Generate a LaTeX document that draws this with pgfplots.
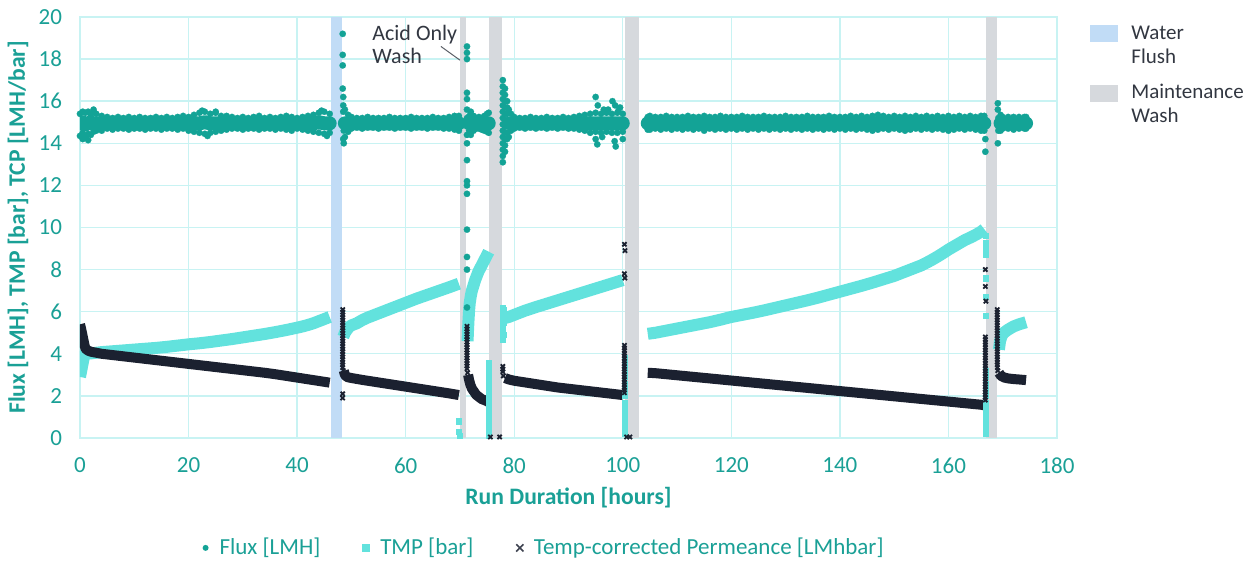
\documentclass[border=0pt]{standalone}
\usepackage{fontspec}
\setmainfont{Carlito}
\usepackage{pgfplots}
\pgfplotsset{compat=1.18}
\usepackage{pgfplotstable}
\definecolor{fluxc}{RGB}{19,163,150}
\definecolor{tmpc}{RGB}{98,226,221}
\definecolor{tcpc}{RGB}{27,33,48}
\definecolor{gridc}{RGB}{200,243,243}
\definecolor{txtc}{RGB}{26,160,150}
\definecolor{waterc}{RGB}{193,220,246}
\definecolor{maintc}{RGB}{214,217,221}
\definecolor{annc}{RGB}{50,55,65}

\pgfplotstableread{
x lo mid hi
0 14.35 14.95 15.4
0.5 14.5 15.0 15.5
1 14.3 14.9 15.45
1.5 14.45 14.95 15.5
2 14.4 15.0 15.35
2.5 14.55 14.9 15.5
3 14.6 14.95 15.4
4 14.6 14.95 15.3
5 14.7 14.95 15.25
6 14.65 14.95 15.2
7 14.7 15.0 15.25
8 14.7 14.95 15.2
9 14.65 14.95 15.25
10 14.7 14.95 15.2
11 14.7 14.95 15.25
12 14.65 14.95 15.2
13 14.7 14.95 15.2
14 14.7 15.0 15.25
15 14.65 14.95 15.2
16 14.7 14.95 15.25
17 14.7 14.95 15.2
18 14.65 14.95 15.25
19 14.7 14.95 15.3
20 14.6 14.95 15.25
21 14.55 14.95 15.35
22 14.5 14.95 15.45
23 14.45 15.0 15.5
24 14.5 14.95 15.4
25 14.55 14.95 15.45
26 14.6 14.95 15.3
27 14.65 14.95 15.3
28 14.7 14.95 15.25
29 14.7 14.95 15.2
30 14.65 14.95 15.25
31 14.7 14.95 15.2
32 14.7 14.95 15.25
33 14.65 14.95 15.3
34 14.7 14.95 15.2
35 14.7 14.95 15.25
36 14.65 14.95 15.2
37 14.7 14.95 15.25
38 14.65 14.95 15.3
39 14.6 14.95 15.25
40 14.7 14.95 15.2
41 14.65 14.95 15.25
42 14.6 14.95 15.3
43 14.55 14.95 15.35
44 14.5 15.0 15.45
45 14.45 14.95 15.5
46 14.5 14.95 15.4
47 nan nan nan
48.8 14.3 14.95 15.6
49.4 14.55 14.95 15.35
50 14.7 14.95 15.25
51 14.75 14.95 15.2
52 14.7 14.95 15.2
53 14.75 14.95 15.25
54 14.75 14.95 15.2
55 14.7 14.95 15.2
56 14.75 14.95 15.2
57 14.75 14.95 15.25
58 14.7 14.95 15.2
59 14.75 14.95 15.2
60 14.75 14.95 15.2
61 14.7 14.95 15.25
62 14.75 14.95 15.2
63 14.75 14.95 15.2
64 14.7 14.95 15.2
65 14.75 14.95 15.25
66 14.75 14.95 15.2
67 14.7 14.95 15.2
68 14.7 14.95 15.25
69 14.65 14.95 15.3
69.8 14.6 14.95 15.3
71 nan nan nan
72 14.4 15.0 15.5
72.5 14.6 14.95 15.3
73 14.7 14.95 15.2
73.5 14.7 14.95 15.25
74 14.65 14.95 15.2
74.5 14.6 14.95 15.3
75 14.55 14.95 15.4
75.3 14.5 14.95 15.45
77 nan nan nan
79.4 14.6 14.95 15.4
80 14.7 14.95 15.25
81 14.75 14.95 15.2
82 14.7 14.95 15.2
83 14.75 14.95 15.25
84 14.7 14.95 15.2
85 14.75 14.95 15.2
86 14.7 14.95 15.25
87 14.75 14.95 15.2
88 14.7 14.95 15.2
89 14.75 14.95 15.25
90 14.7 14.95 15.2
91 14.7 14.95 15.25
92 14.65 14.95 15.3
93 14.6 14.95 15.35
94 14.5 14.95 15.4
95 14.55 14.95 15.45
96 14.5 14.95 15.4
97 14.55 14.95 15.45
98 14.5 14.95 15.4
99 14.5 14.95 15.45
100 14.55 14.95 15.4
102 nan nan nan
104.6 14.65 14.95 15.25
105 14.65 14.95 15.3
106 14.7 14.95 15.25
107 14.65 14.95 15.25
108 14.7 14.95 15.3
109 14.65 14.95 15.25
110 14.7 14.95 15.25
111 14.65 14.95 15.25
112 14.7 14.95 15.3
113 14.65 14.95 15.25
114 14.7 14.95 15.25
115 14.6 14.95 15.3
116 14.7 14.95 15.25
117 14.65 14.95 15.25
118 14.7 14.95 15.3
119 14.65 14.95 15.25
120 14.7 14.95 15.25
121 14.65 14.95 15.25
122 14.7 14.95 15.3
123 14.65 14.95 15.25
124 14.7 14.95 15.25
125 14.65 14.95 15.25
126 14.7 14.95 15.3
127 14.65 14.95 15.25
128 14.7 14.95 15.25
129 14.65 14.95 15.25
130 14.7 14.95 15.3
131 14.65 14.95 15.25
132 14.7 14.95 15.25
133 14.65 14.95 15.25
134 14.7 14.95 15.3
135 14.65 14.95 15.25
136 14.7 14.95 15.25
137 14.65 14.95 15.25
138 14.7 14.95 15.3
139 14.65 14.95 15.25
140 14.7 14.95 15.25
141 14.65 14.95 15.25
142 14.7 14.95 15.3
143 14.65 14.95 15.25
144 14.7 14.95 15.3
145 14.65 14.95 15.25
146 14.6 14.95 15.3
147 14.65 14.95 15.35
148 14.7 14.95 15.3
149 14.65 14.95 15.25
150 14.7 14.95 15.3
151 14.65 14.95 15.25
152 14.6 14.95 15.3
153 14.65 14.95 15.25
154 14.7 14.95 15.3
155 14.65 14.95 15.25
156 14.7 14.95 15.3
157 14.65 14.95 15.25
158 14.7 14.95 15.3
159 14.65 14.95 15.25
160 14.6 14.95 15.3
161 14.65 14.95 15.25
162 14.7 14.95 15.3
163 14.65 14.95 15.25
164 14.7 14.95 15.3
165 14.65 14.95 15.25
166 14.6 14.95 15.3
166.6 14.6 14.95 15.3
168 nan nan nan
169.6 14.6 14.95 15.35
170 14.7 14.95 15.25
171 14.7 14.95 15.25
172 14.65 14.95 15.25
173 14.7 14.95 15.25
174 14.7 14.95 15.25
174.3 14.7 14.95 15.25
}\fluxdata

\pgfplotstableread{
x y
0 2.9
0.3 3.3
0.6 3.7
0.8 3.95
1 4.0
2 4.02
4 4.08
6 4.12
8 4.16
10 4.2
12 4.24
14 4.28
16 4.33
18 4.39
20 4.45
22 4.5
24 4.56
26 4.63
28 4.7
30 4.78
32 4.86
34 4.94
36 5.03
38 5.13
40 5.24
41 5.3
42 5.37
43 5.45
44 5.55
45 5.65
46 5.75
47 nan
48.5 4.8
48.8 5.0
49.2 5.15
49.6 5.28
50 5.35
51 5.45
52 5.6
53 5.72
54 5.82
56 6.02
58 6.22
60 6.42
62 6.62
64 6.8
66 6.98
68 7.16
69.8 7.33
71 nan
71.4 4.6
71.5 5.2
71.6 5.7
71.7 6.1
71.8 6.4
72.0 6.75
72.2 7.0
72.5 7.25
72.8 7.5
73.1 7.7
73.4 7.9
73.8 8.1
74.2 8.3
74.6 8.5
75.0 8.7
75.3 8.85
77 nan
78.3 5.7
79 5.75
80 5.85
82 6.05
84 6.22
86 6.38
88 6.54
90 6.7
92 6.86
94 7.02
96 7.18
98 7.34
100 7.5
102 nan
104.6 4.95
106 5.0
108 5.1
110 5.2
112 5.3
114 5.4
116 5.5
118 5.62
120 5.75
122 5.85
124 5.95
126 6.06
128 6.18
130 6.3
132 6.42
134 6.54
136 6.67
138 6.81
140 6.95
142 7.09
144 7.23
146 7.38
148 7.54
150 7.7
151 7.8
152 7.9
153 8.0
154 8.1
155 8.2
156 8.33
157 8.47
158 8.62
159 8.78
160 8.95
161 9.1
162 9.25
163 9.4
164 9.52
165 9.65
166 9.8
166.6 9.92
168 nan
169.3 4.2
169.5 4.6
169.8 4.85
170.2 5.0
171 5.15
172 5.3
173 5.4
174.3 5.5
}\tmpline

\pgfplotstableread{
x y
69.7 0.3
69.8 0.8
69.9 0.1
75.3 3.6
75.3 3.3
75.3 3.0
75.3 2.7
75.3 2.4
75.3 2.1
75.3 1.8
75.3 1.5
75.3 1.2
75.3 0.9
75.3 0.6
75.3 0.3
75.3 0.1
77.9 4.7
77.9 5.0
77.9 5.3
77.9 5.6
77.9 5.9
77.9 6.2
78.1 4.9
78.1 5.5
78.1 6.1
100.3 3.8
100.3 3.5
100.3 3.2
100.3 2.9
100.3 2.6
100.3 2.3
100.3 2.0
100.3 1.7
100.3 1.4
100.3 1.1
100.3 0.8
100.3 0.5
100.3 0.2
166.8 9.6
166.8 9.3
166.8 9.0
166.8 8.7
166.8 7.6
166.8 6.7
166.8 5.8
166.8 3.2
166.8 2.9
166.8 2.6
166.8 2.3
166.8 2.0
166.8 1.7
166.8 1.4
166.8 1.1
166.8 0.8
166.8 0.5
166.8 0.2
}\tmpmarks

\pgfplotstableread{
x y
0 5.4
0.2 5.2
0.4 4.95
0.6 4.7
0.8 4.45
1 4.25
1.5 4.15
2 4.1
3 4.05
4 4.0
6 3.94
8 3.88
10 3.82
12 3.76
14 3.7
16 3.64
18 3.58
20 3.52
22 3.46
24 3.4
26 3.34
28 3.28
30 3.22
32 3.16
34 3.1
36 3.03
38 2.95
40 2.87
42 2.79
44 2.71
46 2.63
47 nan
48.6 3.2
48.8 3.0
49.2 2.9
49.6 2.87
50 2.85
52 2.76
54 2.68
56 2.6
58 2.52
60 2.44
62 2.36
64 2.28
66 2.2
68 2.12
69.8 2.04
71 nan
71.5 3.0
71.7 2.75
71.9 2.55
72.2 2.35
72.6 2.2
73.0 2.05
73.5 1.95
74.0 1.85
74.5 1.8
75.0 1.75
75.3 1.7
77 nan
78.3 2.85
79 2.78
80 2.72
82 2.64
84 2.56
86 2.48
88 2.4
90 2.34
92 2.28
94 2.22
96 2.16
98 2.1
100 2.04
102 nan
104.6 3.1
106 3.08
108 3.03
110 2.98
112 2.93
114 2.88
116 2.83
118 2.78
120 2.73
122 2.68
124 2.63
126 2.58
128 2.53
130 2.48
132 2.43
134 2.38
136 2.33
138 2.28
140 2.23
142 2.18
144 2.13
146 2.08
148 2.03
150 1.98
152 1.93
154 1.88
156 1.83
158 1.78
160 1.73
162 1.68
164 1.63
166 1.58
166.6 1.55
168 nan
169.3 3.1
169.7 2.95
170.3 2.87
171 2.83
172 2.8
173 2.78
174.3 2.75
}\tcpline

\pgfplotstableread{
x y
48.4 6.1
48.4 5.98
48.4 5.85
48.4 5.73
48.4 5.6
48.4 5.48
48.4 5.35
48.4 5.23
48.4 5.1
48.4 4.98
48.4 4.85
48.4 4.73
48.4 4.6
48.4 4.48
48.4 4.35
48.4 4.23
48.4 4.1
48.4 3.98
48.4 3.85
48.4 3.73
48.4 3.6
48.4 3.48
48.4 3.35
48.5 3.2
48.4 2.1
48.4 1.9
71.3 5.3
71.3 5.18
71.3 5.05
71.3 4.93
71.3 4.8
71.3 4.68
71.3 4.55
71.3 4.43
71.3 4.3
71.3 4.18
71.3 4.05
71.3 3.93
71.3 3.8
71.3 3.68
71.3 3.55
71.3 3.43
71.3 3.3
71.4 3.1
75.6 0.05
77.3 0.05
77.9 3.4
77.9 3.27
77.9 3.15
78.0 2.95
100.3 4.4
100.3 4.28
100.3 4.15
100.3 4.03
100.3 3.9
100.3 3.78
100.3 3.65
100.3 3.53
100.3 3.4
100.3 3.28
100.3 3.15
100.3 3.03
100.3 2.9
100.3 2.78
100.3 2.65
100.3 2.53
100.3 2.4
100.3 2.28
100.3 2.15
100.3 9.2
100.4 8.9
100.3 7.8
100.4 7.6
100.7 0.05
101.3 0.05
166.8 1.8
166.8 1.93
166.8 2.05
166.8 2.18
166.8 2.3
166.8 2.43
166.8 2.55
166.8 2.68
166.8 2.8
166.8 2.93
166.8 3.05
166.8 3.18
166.8 3.3
166.8 3.43
166.8 3.55
166.8 3.68
166.8 3.8
166.8 3.93
166.8 4.05
166.8 4.18
166.8 4.3
166.8 4.43
166.8 4.55
166.8 4.68
166.8 4.8
166.8 8.0
166.8 7.2
166.9 6.5
169.0 6.1
169.0 5.98
169.0 5.85
169.0 5.73
169.0 5.6
169.0 5.48
169.0 5.35
169.0 5.23
169.0 5.1
169.0 4.98
169.0 4.85
169.0 4.73
169.0 4.6
169.0 4.48
169.0 4.35
169.0 4.23
169.0 4.1
169.0 3.98
169.0 3.85
169.0 3.73
169.0 3.6
169.0 3.48
169.0 3.35
169.1 3.2
}\tcpmarks

\begin{document}
\begin{tikzpicture}
\begin{axis}[
  at={(0,0)}, anchor=south west,
  scale only axis, width=488.5pt, height=210.5pt,
  xmin=0, xmax=180, ymin=0, ymax=20,
  xtick={0,20,...,180}, ytick={0,2,...,20},
  grid=major,
  major grid style={draw=gridc, line width=0.7pt},
  axis line style={draw=gridc, line width=0.7pt},
  tick style={draw=none},
  unbounded coords=jump,
  /pgf/number format/assume math mode=true,
  ticklabel style={font=\fontsize{11.5}{13}\selectfont, text=txtc},
  yticklabel style={xshift=-5.5pt},
  xticklabel style={yshift=-6.5pt},
  xlabel={Run Duration [hours]},
  ylabel={Flux [LMH], TMP [bar], TCP [LMH/bar]},
  label style={font=\bfseries\fontsize{11.8}{13}\selectfont, text=txtc},
  xlabel style={at={(axis description cs:0.5,-0.1425)}, anchor=center},
  ylabel style={at={(axis description cs:-0.0635,0.5)}, anchor=center, rotate=0},
  legend columns=3,
  legend style={draw=none, fill=none, at={(0.476,-0.261)}, anchor=center,
    font=\fontsize{11.5}{13}\selectfont, text=txtc},
  legend cell align=left,
]
% wash bands
\addplot[draw=none, fill=waterc, forget plot] coordinates {(46.2,0) (46.2,20) (48.3,20) (48.3,0)} -- cycle;
\addplot[draw=none, fill=maintc, forget plot] coordinates {(70.0,0) (70.0,20) (71.2,20) (71.2,0)} -- cycle;
\addplot[draw=none, fill=maintc, forget plot] coordinates {(75.4,0) (75.4,20) (77.7,20) (77.7,0)} -- cycle;
\addplot[draw=none, fill=maintc, forget plot] coordinates {(100.5,0) (100.5,20) (102.9,20) (102.9,0)} -- cycle;
\addplot[draw=none, fill=maintc, forget plot] coordinates {(167.0,0) (167.0,20) (168.9,20) (168.9,0)} -- cycle;

% Flux
\addplot[fluxc, line width=7pt, line cap=round, line join=round, no markers,
  legend image code/.code={\fill[fluxc, draw=none, line width=0.4pt] (0,0) circle (1.5pt); \path[draw=none] (-1.5pt,0) -- (5pt,0);}]
  table[x=x, y=mid] {\fluxdata};
\addlegendentry{Flux [LMH]\hspace*{19pt}\mbox{}}
\addplot[fluxc, only marks, mark=*, mark size=1.6pt, mark options={fill=fluxc, draw=fluxc, line width=0.1pt}, forget plot]
  table[x=x, y=lo] {\fluxdata};
\addplot[fluxc, only marks, mark=*, mark size=1.6pt, mark options={fill=fluxc, draw=fluxc, line width=0.1pt}, forget plot]
  table[x=x, y=hi] {\fluxdata};
\addplot[fluxc, only marks, mark=*, mark size=1.6pt, mark options={fill=fluxc, draw=fluxc, line width=0.1pt}, forget plot]
  coordinates {
  (0.5,14.2) (1.5,14.15) (2.5,15.6) (22.5,15.55) (23.5,14.35) (25,15.5) (44.5,15.55) (45.5,14.35)
  (48.4,19.2) (48.4,18.2) (48.4,17.7) (48.4,16.6) (48.5,16.2) (48.5,15.8) (48.5,15.5) (48.5,14.2) (48.6,14.0)
  (48.6,15.0) (48.6,14.6)
  (71.3,18.6) (71.3,18.3) (71.3,18.0) (71.3,16.4) (71.3,16.1) (71.3,15.6) (71.3,15.2) (71.3,14.8) (71.3,14.4)
  (71.3,14.0) (71.3,13.2) (71.3,12.2) (71.3,12.0) (71.3,11.6) (71.3,9.9) (71.3,8.6) (71.3,8.0) (71.3,6.2)
  (71.5,15.0) (71.7,14.6) (71.7,15.3)
  (77.9,17.0) (77.9,16.7) (77.9,16.4) (77.9,16.1) (77.9,15.8) (77.9,15.5) (77.9,15.2) (77.9,14.9) (77.9,14.6)
  (77.9,14.3) (77.9,14.0) (77.9,13.7) (77.9,13.4) (77.9,13.1)
  (78.3,16.6) (78.3,16.3) (78.3,16.0) (78.3,15.7) (78.3,15.4) (78.3,15.1) (78.3,14.8) (78.3,14.5) (78.3,14.2) (78.3,13.9) (78.3,13.6)
  (78.7,16.0) (78.7,15.7) (78.7,15.4) (78.7,15.1) (78.7,14.8) (78.7,14.5) (78.7,14.2)
  (79.0,15.6) (79.0,15.0) (79.0,14.3)
  (95,16.2) (95.4,15.8) (96.5,15.6) (98.1,16.0) (98.6,15.8) (97.3,15.6) (95,14.2) (95.3,13.95)
  (98.5,14.1) (98.7,13.85) (96.2,14.3) (99.5,15.7) (100,14.2) (99.2,15.55)
  (166.8,14.2) (166.8,13.6) (169.1,15.9) (169.1,15.6) (169.1,14.0) (169.2,14.6) (169.2,15.2)
  };

% TMP
\addplot[tmpc, line width=6pt, line join=round, no markers,
  legend image code/.code={\fill[tmpc, draw=none, line width=0.4pt] (-1.9pt,-1.9pt) rectangle (1.9pt,1.9pt); \path[draw=none] (-1.9pt,0) -- (5pt,0);}]
  table[x=x, y=y] {\tmpline};
\addlegendentry{TMP [bar]\hspace*{19pt}\mbox{}}
\addplot[tmpc, only marks, mark=square*, mark size=1.3pt, mark options={fill=tmpc, draw=tmpc, line width=0.1pt}, forget plot]
  table[x=x, y=y] {\tmpmarks};

% TCP
\addplot[tcpc, line width=5pt, line join=round, no markers,
  legend image code/.code={\draw[tcpc!85, line width=0.8pt, line cap=butt] (-1.8pt,-1.8pt) -- (1.8pt,1.8pt) (-1.8pt,1.8pt) -- (1.8pt,-1.8pt); \path[draw=none] (-1.8pt,0) -- (5pt,0);}]
  table[x=x, y=y] {\tcpline};
\addlegendentry{Temp-corrected Permeance [LMhbar]}
\addplot[tcpc, only marks, mark=x, mark size=1.5pt, mark options={draw=tcpc, line width=0.9pt}, forget plot]
  table[x=x, y=y] {\tcpmarks};

\draw[annc!80, line width=0.5pt] (axis cs:66.5,18.6) -- (axis cs:70.0,17.95);
\end{axis}

% annotation
\node[anchor=west, inner sep=0pt, align=left, text=annc, font=\fontsize{11}{11.5}\selectfont] at (146pt,197pt) {Acid Only\\Wash};

% right legend
\fill[waterc] (505pt,198pt) rectangle (519pt,206.5pt);
\node[anchor=west, inner sep=0pt, align=left, text=annc, font=\fontsize{10.5}{12}\selectfont] at (525.5pt,196.5pt) {Water\\Flush};
\fill[maintc] (505pt,168pt) rectangle (519pt,176.5pt);
\node[anchor=west, inner sep=0pt, align=left, text=annc, font=\fontsize{10.5}{12}\selectfont] at (525.5pt,167.25pt) {Maintenance\\Wash};

\pgfresetboundingbox
\path[use as bounding box] (-40pt,-64.5pt) rectangle (586.5pt,219pt);
\end{tikzpicture}
\end{document}
